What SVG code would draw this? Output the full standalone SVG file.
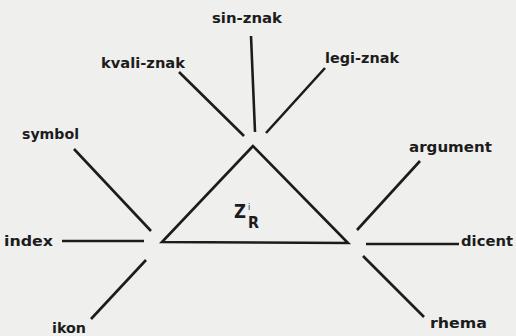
<svg xmlns="http://www.w3.org/2000/svg" width="516" height="336" viewBox="0 0 516 336">
<style>
.l{stroke:#1c1c1c;stroke-width:2.6;stroke-linecap:butt;fill:none}
text{font-family:"DejaVu Sans","Liberation Sans",sans-serif;font-weight:bold;font-size:14px;fill:#1c1c1c}
</style>
<rect width="516" height="336" fill="#efefee"/>
<g id="triangle">
<polygon class="l" points="253,146 162,242 348,243" stroke-linejoin="miter"/>
<text x="234" y="218" style="font-size:19px" textLength="12" lengthAdjust="spacingAndGlyphs">Z</text>
<text x="248" y="210" style="font-size:8px;font-weight:normal">i</text>
<text x="248" y="228" style="font-size:16px" textLength="11" lengthAdjust="spacingAndGlyphs">R</text>
</g>
<g id="connectors">
<line class="l" x1="251" y1="36" x2="255" y2="132"/>
<line class="l" x1="179" y1="72" x2="244" y2="136"/>
<line class="l" x1="325" y1="68" x2="266" y2="133"/>
<line class="l" x1="74" y1="149" x2="151" y2="231"/>
<line class="l" x1="62" y1="241" x2="144" y2="241"/>
<line class="l" x1="146" y1="260" x2="91" y2="319"/>
<line class="l" x1="420" y1="161" x2="357" y2="230"/>
<line class="l" x1="366" y1="244" x2="459" y2="244"/>
<line class="l" x1="363" y1="256" x2="424" y2="317"/>
</g>
<g id="sin-znak"><text x="212" y="23" textLength="70" lengthAdjust="spacingAndGlyphs">sin-znak</text></g>
<g id="kvali-znak"><text x="101" y="68" textLength="84" lengthAdjust="spacingAndGlyphs">kvali-znak</text></g>
<g id="legi-znak"><text x="325" y="63" textLength="74" lengthAdjust="spacingAndGlyphs">legi-znak</text></g>
<g id="symbol"><text x="22" y="139" textLength="57" lengthAdjust="spacingAndGlyphs">symbol</text></g>
<g id="argument"><text x="409" y="152" textLength="83" lengthAdjust="spacingAndGlyphs">argument</text></g>
<g id="index"><text x="4" y="246" textLength="49" lengthAdjust="spacingAndGlyphs">index</text></g>
<g id="dicent"><text x="461" y="246" textLength="52" lengthAdjust="spacingAndGlyphs">dicent</text></g>
<g id="ikon"><text x="52" y="333" textLength="34" lengthAdjust="spacingAndGlyphs">ikon</text></g>
<g id="rhema"><text x="430" y="328" textLength="57" lengthAdjust="spacingAndGlyphs">rhema</text></g>
</svg>
